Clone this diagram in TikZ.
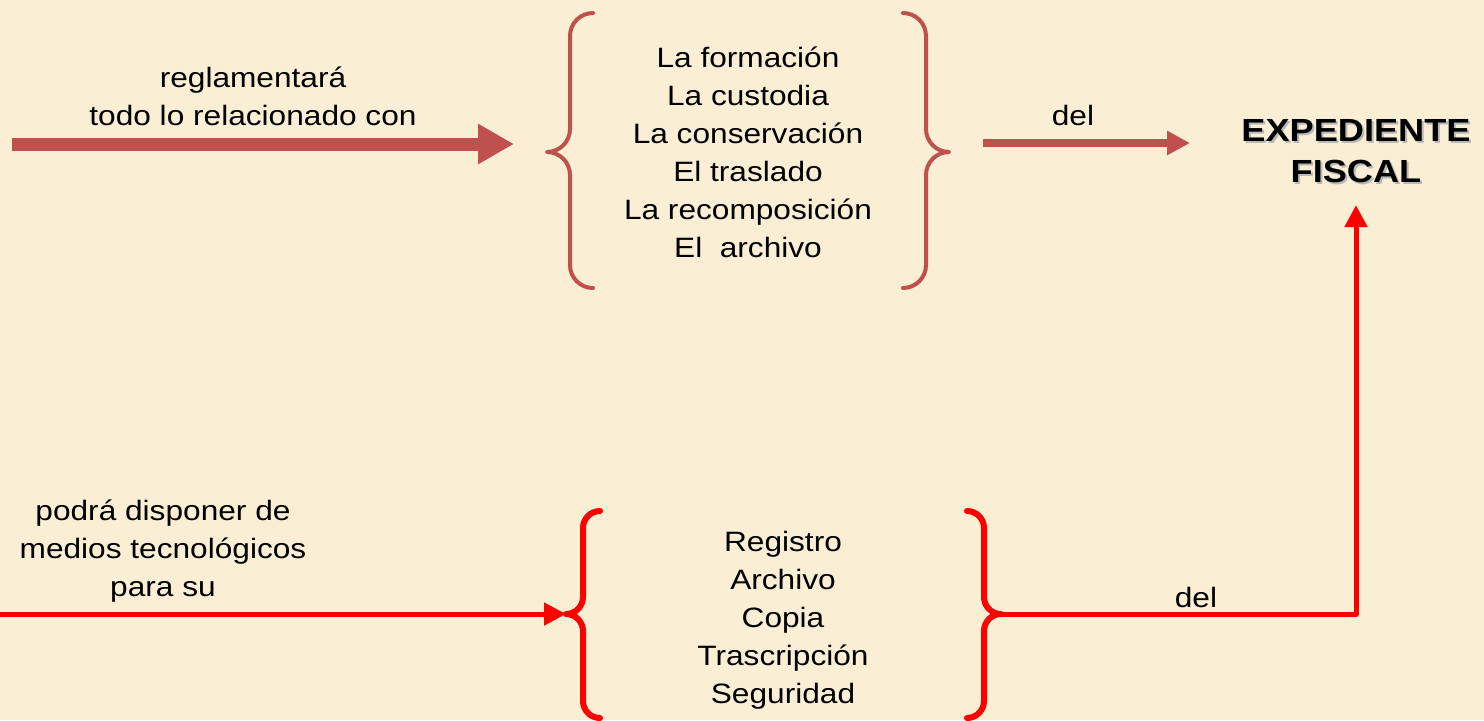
\documentclass[tikz,border=0pt]{standalone}
\usepackage{fontspec}
\setmainfont[FakeStretch=1.13]{Liberation Sans}
\usetikzlibrary{arrows.meta}

\definecolor{paper}{RGB}{250,239,212}
\definecolor{brick}{RGB}{192,80,77}
\definecolor{signal}{RGB}{255,0,0}

\begin{document}
\begin{tikzpicture}[x=0.5pt,y=-0.5pt,line join=round,
  words/.style={align=center,inner sep=0pt,font=\fontsize{14}{19}\selectfont},
  heading/.style={align=center,inner sep=0pt,font=\fontsize{16}{20.5}\selectfont\bfseries},
  curl/.style={line width=2pt,line cap=round},
  boldcurl/.style={signal,line width=3pt,line cap=round},
  fatwire/.style={brick,line width=6.5pt,-{Triangle[length=18pt,width=19pt]}},
  thinwire/.style={brick,line width=4pt,-{Triangle[length=11.5pt,width=11.5pt]}},
  redwire/.style={signal,line width=2.5pt,-{Triangle[length=11pt,width=11pt]}}]

% Paper background.
\fill[paper] (0,0) rectangle (1484,720);
\useasboundingbox (0,0) rectangle (1484,720);

% Upper row: texts.
\node[words] (rule) at (253,96) {reglamentará\\todo lo relacionado con};
\node[words] (tasks) at (748,152)
  {La formación\\La custodia\\La conservación\\El traslado\\La recomposición\\El\ \ archivo};
\node[words] (del top) at (1073,115) {del};
\node[heading,text=black!28] (expshadow) at (1358,153) {EXPEDIENTE\\FISCAL};
\node[heading] (expediente) at (1356,151) {EXPEDIENTE\\FISCAL};

% Upper braces.
\draw[curl,brick] (593,13) arc[start angle=270,end angle=180,radius=23] -- ++(0,93)
  arc[start angle=0,end angle=90,radius=23] coordinate (tasks in)
  arc[start angle=270,end angle=360,radius=23] -- ++(0,90)
  arc[start angle=180,end angle=90,radius=23];
\draw[curl,brick] (903,13) arc[start angle=270,end angle=360,radius=23] -- ++(0,93)
  arc[start angle=180,end angle=90,radius=23] coordinate (tasks out)
  arc[start angle=270,end angle=180,radius=23] -- ++(0,90)
  arc[start angle=0,end angle=90,radius=23];

% Upper arrows.
\coordinate (rule start) at (12,144);
\coordinate (rule end) at (514,144);
\draw[fatwire] (rule start) -- (rule end);
\coordinate (del start) at (983,143);
\coordinate (del end) at (1190,143);
\draw[thinwire] (del start) -- (del end);

% Lower row: texts.
\node[words] (means) at (163,551) {podrá disponer de\\medios tecnológicos\\para su};
\node[words] (uses) at (783,620) {Registro\\Archivo\\Copia\\Trascripción\\Seguridad};
\node[words] (del low) at (1196,597) {del};

% Lower braces.
\draw[boldcurl] (600,511) arc[start angle=270,end angle=180,radius=17] -- ++(0,69)
  arc[start angle=0,end angle=90,radius=17] coordinate (uses in)
  arc[start angle=270,end angle=360,radius=17] -- ++(0,70)
  arc[start angle=180,end angle=90,radius=17];
\draw[boldcurl] (967,511) arc[start angle=270,end angle=360,radius=17] -- ++(0,69)
  arc[start angle=180,end angle=90,radius=17] coordinate (uses out)
  arc[start angle=270,end angle=180,radius=17] -- ++(0,70)
  arc[start angle=0,end angle=90,radius=17];

% Lower arrows.
\coordinate (means start) at (0,614);
\draw[redwire] (means start) -- (uses in);
\draw[redwire,shorten >=11pt] (uses out) -| (expediente.south);

\end{tikzpicture}
\end{document}
